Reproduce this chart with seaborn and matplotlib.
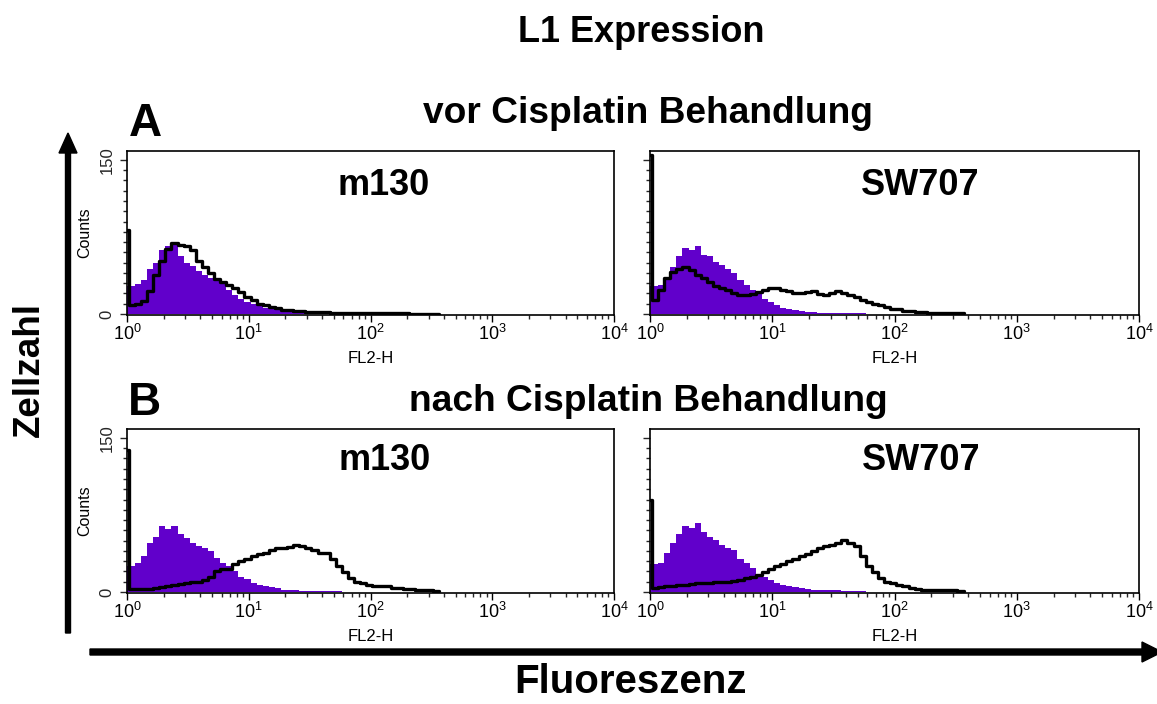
import numpy as np
import pandas as pd
import matplotlib
matplotlib.use("Agg")
import matplotlib.pyplot as plt
from matplotlib.ticker import LogLocator, MultipleLocator, FixedLocator, NullFormatter
from matplotlib.patches import FancyArrow
import seaborn as sns

# ---------------- data ----------------
# channel bins in log10(FL2-H): first narrow "pile-up" channel, then 0.05-decade channels
spike_edge = 0.015
bin_width = 0.05
n_bins = 51

cell_lines = ["m130", "SW707", "m130", "SW707"]
conditions = ["vor", "vor", "nach", "nach"]

# isotype control (filled purple), counts per channel
ctrl_m130_vor = [27, 29, 33, 44, 50, 62, 66, 69, 56, 50,
                 47, 42, 38, 35, 32, 29, 23, 18, 15, 12,
                 10, 8, 6, 5, 4, 3, 3, 2, 2, 1,
                 1, 1, 1, 1, 0.5, 0.5, 0.5, 0.5, 0, 0,
                 0, 0, 0, 0, 0, 0, 0, 0, 0, 0, 0]
ctrl_sw707_vor = [27, 28, 36, 46, 56, 64, 62, 66, 57, 56,
                  51, 48, 44, 40, 33, 28, 23, 20, 15, 12,
                  9, 6, 5, 4, 3, 2, 2, 1, 1, 1,
                  1, 1, 1, 1, 0.5, 0, 0, 0, 0, 0,
                  0, 0, 0, 0, 0, 0, 0, 0, 0, 0, 0]
ctrl_m130_nach = [25, 28, 35, 48, 54, 64, 61, 64, 56, 53,
                  48, 45, 43, 40, 33, 28, 25, 20, 15, 13,
                  9, 7, 6, 5, 4, 2, 2, 2, 1, 1,
                  1, 1, 1, 0.5, 0.5, 0, 0, 0, 0, 0,
                  0, 0, 0, 0, 0, 0, 0, 0, 0, 0, 0]
ctrl_sw707_nach = [27, 28, 38, 48, 56, 64, 62, 67, 58, 54,
                   51, 46, 43, 41, 32, 28, 23, 17, 15, 12,
                   9, 7, 6, 5, 4, 3, 2, 2, 2, 2,
                   2, 1, 1, 1, 1, 0, 0, 0, 0, 0,
                   0, 0, 0, 0, 0, 0, 0, 0, 0, 0, 0]

# L1 staining (black outline), counts per channel
l1_m130_vor = [9, 10, 13, 22, 38, 52, 63, 69, 67, 66,
               62, 52, 46, 40, 34, 31, 28, 25, 21, 17,
               14, 10, 9, 7, 6, 4, 4, 3, 3, 2,
               2, 2, 1.5, 1, 1, 1, 1, 1, 1, 1,
               0.5, 0.5, 0.5, 0.5, 0.5, 0.5, 0, 0, 0, 0, 0]
l1_sw707_vor = [14, 23, 35, 41, 44, 46, 43, 38, 35, 31,
                27, 25, 23, 20, 18, 18, 19, 21, 23, 25,
                25, 23, 22, 20, 20, 21, 22, 19, 18, 20,
                22, 20, 18, 17, 14, 12, 10, 9, 7, 5,
                5, 3, 3, 2, 2, 1, 1, 1, 1, 1, 0.5]
l1_m130_nach = [3, 3, 3, 3, 4, 5, 6, 7, 8, 9,
                10, 10, 12, 15, 20, 22, 22, 27, 30, 32,
                35, 37, 38, 41, 43, 43, 44, 46, 45, 43,
                41, 38, 38, 32, 25, 19, 14, 10, 9, 7,
                6, 6, 6, 4, 4, 3, 3, 2, 2, 2, 1]
l1_sw707_nach = [4, 5, 6, 6, 7, 7, 8, 9, 9, 9,
                 10, 10, 10, 11, 12, 14, 15, 17, 19, 22,
                 25, 27, 30, 32, 35, 37, 40, 43, 45, 46,
                 48, 51, 48, 45, 35, 25, 19, 14, 10, 9,
                 7, 6, 4, 3, 2, 2, 2, 2, 2, 2, 1]

# pile-up in the first channel (black vertical line at 10^0)
l1_spike = [82, 155, 138, 90]

ctrl_sets = [ctrl_m130_vor, ctrl_sw707_vor, ctrl_m130_nach, ctrl_sw707_nach]
l1_sets = [l1_m130_vor, l1_sw707_vor, l1_m130_nach, l1_sw707_nach]

# ---------------- style ----------------
sns.set_theme(style="white")
plt.rcParams["font.family"] = ["Liberation Sans", "DejaVu Sans"]
plt.rcParams["mathtext.fontset"] = "custom"
plt.rcParams["mathtext.rm"] = "Liberation Sans"
plt.rcParams["mathtext.it"] = "Liberation Sans"
plt.rcParams["mathtext.default"] = "regular"

W, H = 1157, 704
fig = plt.figure(figsize=(W / 100, H / 100), dpi=100)
PURPLE = "#6100CB"

edges = np.concatenate([[0.0], spike_edge + bin_width * np.arange(n_bins + 1)])
centers = (edges[:-1] + edges[1:]) / 2

# axes boxes in pixels: (left, top, right, bottom)
boxes = [(127, 151, 614, 315), (650, 151, 1139, 315),
         (127, 429, 614, 593), (650, 429, 1139, 593)]
title_pos = [(0.526, 0.732), (0.552, 0.732), (0.528, 0.75), (0.554, 0.75)]

for k in range(4):
    l, t, r, b = boxes[k]
    ax = fig.add_axes([l / W, 1 - b / H, (r - l) / W, (b - t) / H])
    ctrl = [ctrl_sets[k][0]] + list(ctrl_sets[k])
    l1 = [l1_spike[k]] + list(l1_sets[k])
    df = pd.DataFrame({"fl2": 10 ** centers, "ctrl": ctrl, "l1": l1})
    sns.histplot(data=df, x="fl2", weights="ctrl", bins=list(edges), log_scale=True,
                 element="step", fill=True, color=PURPLE, alpha=1, linewidth=0, ax=ax)
    sns.histplot(data=df, x="fl2", weights="l1", bins=list(edges), log_scale=True,
                 element="step", fill=False, color="black", linewidth=2.4, ax=ax)
    ax.set_xlim(1, 1e4)
    ax.set_ylim(-1, 158.7)
    for s in ax.spines.values():
        s.set_visible(True)
        s.set_color("black")
        s.set_linewidth(1.2)
    ax.xaxis.set_major_locator(LogLocator(base=10, numticks=10))
    ax.xaxis.set_minor_locator(LogLocator(base=10, subs=np.arange(2, 10), numticks=100))
    ax.xaxis.set_minor_formatter(NullFormatter())
    ax.tick_params(axis="x", which="major", direction="out", length=5, width=1, pad=1.5,
                   labelsize=13, bottom=True, colors="black")
    ax.tick_params(axis="x", which="minor", direction="out", length=3, width=1, bottom=True)
    ax.yaxis.set_major_locator(FixedLocator([0, 150]))
    ax.yaxis.set_minor_locator(MultipleLocator(10))
    ax.tick_params(axis="y", which="major", direction="out", length=5, width=1, pad=4,
                   labelsize=12, left=True, labelrotation=90)
    ax.tick_params(axis="y", which="minor", direction="out", length=3, width=1, left=True)
    for lab in ax.get_yticklabels():
        lab.set_va("center")
    ax.set_xlabel("FL2-H", fontsize=12, color="black")
    ax.xaxis.set_label_coords(0.5, -0.22)
    ax.xaxis.label.set_va("top")
    if k % 2 == 0:
        ax.set_ylabel("Counts", fontsize=11.5, color="black")
        ax.yaxis.set_label_coords(-0.072, 0.5)
    else:
        ax.set_ylabel("")
        ax.set_yticklabels([])
    tx, ty = title_pos[k]
    ax.text(tx, ty, cell_lines[k], transform=ax.transAxes, ha="center", va="baseline",
            fontsize=26, fontweight="bold", color="black")

# ---------------- figure texts ----------------
def ftext(x, y, s, **kw):
    fig.text(x / W, 1 - y / H, s, color="black", fontweight="bold", **kw)

ftext(641, 42, "L1 Expression", fontsize=26, ha="center", va="baseline")
ftext(648, 123, "vor Cisplatin Behandlung", fontsize=26.7, ha="center", va="baseline")
ftext(648, 411, "nach Cisplatin Behandlung", fontsize=26.7, ha="center", va="baseline")
ftext(145, 136, "A", fontsize=33, ha="center", va="baseline")
ftext(144, 415, "B", fontsize=33, ha="center", va="baseline")
ftext(29, 370, "Zellzahl", fontsize=26.5, ha="center", va="center", rotation=90)
ftext(631, 693, "Fluoreszenz", fontsize=29, ha="center", va="baseline")

# ---------------- arrows (overlay in pixel units) ----------------
ov = fig.add_axes([0, 0, 1, 1], zorder=-1)
ov.set_xlim(0, W)
ov.set_ylim(H, 0)
ov.axis("off")
ov.add_patch(FancyArrow(68, 633, 0, -500, width=5, head_width=18, head_length=20,
                        length_includes_head=True, color="black"))
ov.add_patch(FancyArrow(90, 652, 1072, 0, width=6, head_width=20, head_length=20,
                        length_includes_head=True, color="black"))

fig.savefig("out.png", dpi=100, facecolor="white")
